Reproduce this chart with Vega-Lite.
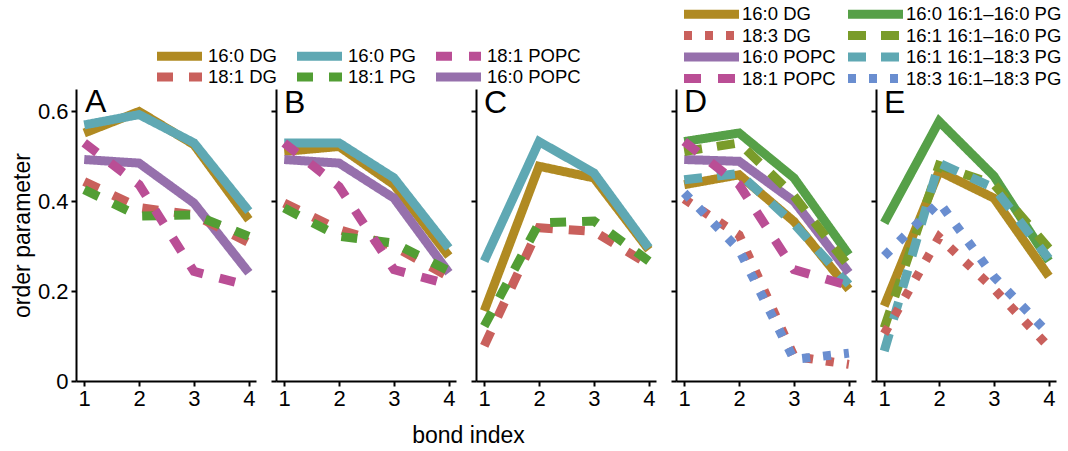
{
  "$schema": "https://vega.github.io/schema/vega-lite/v6.json",
  "background": "white",
  "padding": {"left": 11, "top": 5, "right": 0, "bottom": 0},
  "config": {
    "font": "Liberation Sans",
    "view": {"stroke": null},
    "axis": {"domainColor": "black", "domainWidth": 2, "tickColor": "black", "tickWidth": 2, "tickSize": 5, "labelFontSize": 22, "labelColor": "black", "titleFontSize": 23, "titleFontWeight": "normal", "titleColor": "black", "grid": false, "labelFont": "Liberation Sans", "titleFont": "Liberation Sans"},
    "legend": {"labelFont": "Liberation Sans", "labelFontSize": 18.5, "labelColor": "black", "padding": 0, "clipHeight": 18},
    "title": {"fontSize": 32, "fontWeight": "normal", "color": "black", "anchor": "start", "frame": "group", "baseline": "alphabetic", "font": "Liberation Sans"}
  },
  "data": {"values": [
    {"p":"A","s":"16:0 DG","b":1,"v":0.552},{"p":"A","s":"16:0 DG","b":2,"v":0.600},{"p":"A","s":"16:0 DG","b":3,"v":0.526},{"p":"A","s":"16:0 DG","b":4,"v":0.359},
    {"p":"A","s":"16:0 PG","b":1,"v":0.570},{"p":"A","s":"16:0 PG","b":2,"v":0.593},{"p":"A","s":"16:0 PG","b":3,"v":0.530},{"p":"A","s":"16:0 PG","b":4,"v":0.378},
    {"p":"A","s":"16:0 POPC","b":1,"v":0.493},{"p":"A","s":"16:0 POPC","b":2,"v":0.485},{"p":"A","s":"16:0 POPC","b":3,"v":0.396},{"p":"A","s":"16:0 POPC","b":4,"v":0.241},
    {"p":"A","s":"18:1 DG","b":1,"v":0.444},{"p":"A","s":"18:1 DG","b":2,"v":0.386},{"p":"A","s":"18:1 DG","b":3,"v":0.370},{"p":"A","s":"18:1 DG","b":4,"v":0.308},
    {"p":"A","s":"18:1 PG","b":1,"v":0.426},{"p":"A","s":"18:1 PG","b":2,"v":0.367},{"p":"A","s":"18:1 PG","b":3,"v":0.370},{"p":"A","s":"18:1 PG","b":4,"v":0.322},
    {"p":"A","s":"18:1 POPC","b":1,"v":0.530},{"p":"A","s":"18:1 POPC","b":2,"v":0.437},{"p":"A","s":"18:1 POPC","b":3,"v":0.244},{"p":"A","s":"18:1 POPC","b":4,"v":0.212},

    {"p":"B","s":"16:0 DG","b":1,"v":0.511},{"p":"B","s":"16:0 DG","b":2,"v":0.522},{"p":"B","s":"16:0 DG","b":3,"v":0.437},{"p":"B","s":"16:0 DG","b":4,"v":0.278},
    {"p":"B","s":"16:0 PG","b":1,"v":0.530},{"p":"B","s":"16:0 PG","b":2,"v":0.530},{"p":"B","s":"16:0 PG","b":3,"v":0.452},{"p":"B","s":"16:0 PG","b":4,"v":0.296},
    {"p":"B","s":"16:0 POPC","b":1,"v":0.493},{"p":"B","s":"16:0 POPC","b":2,"v":0.485},{"p":"B","s":"16:0 POPC","b":3,"v":0.407},{"p":"B","s":"16:0 POPC","b":4,"v":0.241},
    {"p":"B","s":"18:1 DG","b":1,"v":0.396},{"p":"B","s":"18:1 DG","b":2,"v":0.337},{"p":"B","s":"18:1 DG","b":3,"v":0.300},{"p":"B","s":"18:1 DG","b":4,"v":0.232},
    {"p":"B","s":"18:1 PG","b":1,"v":0.385},{"p":"B","s":"18:1 PG","b":2,"v":0.322},{"p":"B","s":"18:1 PG","b":3,"v":0.307},{"p":"B","s":"18:1 PG","b":4,"v":0.245},
    {"p":"B","s":"18:1 POPC","b":1,"v":0.530},{"p":"B","s":"18:1 POPC","b":2,"v":0.433},{"p":"B","s":"18:1 POPC","b":3,"v":0.248},{"p":"B","s":"18:1 POPC","b":4,"v":0.215},

    {"p":"C","s":"16:0 DG","b":1,"v":0.156},{"p":"C","s":"16:0 DG","b":2,"v":0.478},{"p":"C","s":"16:0 DG","b":3,"v":0.452},{"p":"C","s":"16:0 DG","b":4,"v":0.292},
    {"p":"C","s":"16:0 PG","b":1,"v":0.267},{"p":"C","s":"16:0 PG","b":2,"v":0.533},{"p":"C","s":"16:0 PG","b":3,"v":0.463},{"p":"C","s":"16:0 PG","b":4,"v":0.296},
    {"p":"C","s":"18:1 DG","b":1,"v":0.078},{"p":"C","s":"18:1 DG","b":2,"v":0.341},{"p":"C","s":"18:1 DG","b":3,"v":0.333},{"p":"C","s":"18:1 DG","b":4,"v":0.259},
    {"p":"C","s":"18:1 PG","b":1,"v":0.122},{"p":"C","s":"18:1 PG","b":2,"v":0.352},{"p":"C","s":"18:1 PG","b":3,"v":0.356},{"p":"C","s":"18:1 PG","b":4,"v":0.267},

    {"p":"D","s":"16:0 DG","b":1,"v":0.437},{"p":"D","s":"16:0 DG","b":2,"v":0.459},{"p":"D","s":"16:0 DG","b":3,"v":0.355},{"p":"D","s":"16:0 DG","b":4,"v":0.204},
    {"p":"D","s":"16:1 16:1–18:3 PG","b":1,"v":0.448},{"p":"D","s":"16:1 16:1–18:3 PG","b":2,"v":0.462},{"p":"D","s":"16:1 16:1–18:3 PG","b":3,"v":0.350},{"p":"D","s":"16:1 16:1–18:3 PG","b":4,"v":0.215},
    {"p":"D","s":"16:0 POPC","b":1,"v":0.493},{"p":"D","s":"16:0 POPC","b":2,"v":0.489},{"p":"D","s":"16:0 POPC","b":3,"v":0.400},{"p":"D","s":"16:0 POPC","b":4,"v":0.241},
    {"p":"D","s":"16:0 16:1–16:0 PG","b":1,"v":0.533},{"p":"D","s":"16:0 16:1–16:0 PG","b":2,"v":0.552},{"p":"D","s":"16:0 16:1–16:0 PG","b":3,"v":0.452},{"p":"D","s":"16:0 16:1–16:0 PG","b":4,"v":0.281},
    {"p":"D","s":"16:1 16:1–16:0 PG","b":1,"v":0.511},{"p":"D","s":"16:1 16:1–16:0 PG","b":2,"v":0.530},{"p":"D","s":"16:1 16:1–16:0 PG","b":3,"v":0.412},{"p":"D","s":"16:1 16:1–16:0 PG","b":4,"v":0.255},
    {"p":"D","s":"18:1 POPC","b":1,"v":0.533},{"p":"D","s":"18:1 POPC","b":2,"v":0.437},{"p":"D","s":"18:1 POPC","b":3,"v":0.248},{"p":"D","s":"18:1 POPC","b":4,"v":0.212},
    {"p":"D","s":"18:3 DG","b":1,"v":0.405},{"p":"D","s":"18:3 DG","b":2,"v":0.325},{"p":"D","s":"18:3 DG","b":3,"v":0.055},{"p":"D","s":"18:3 DG","b":4,"v":0.037},
    {"p":"D","s":"18:3 16:1–18:3 PG","b":1,"v":0.419},{"p":"D","s":"18:3 16:1–18:3 PG","b":2,"v":0.292},{"p":"D","s":"18:3 16:1–18:3 PG","b":3,"v":0.048},{"p":"D","s":"18:3 16:1–18:3 PG","b":4,"v":0.062},

    {"p":"E","s":"16:0 16:1–16:0 PG","b":1,"v":0.352},{"p":"E","s":"16:0 16:1–16:0 PG","b":2,"v":0.578},{"p":"E","s":"16:0 16:1–16:0 PG","b":3,"v":0.456},{"p":"E","s":"16:0 16:1–16:0 PG","b":4,"v":0.267},
    {"p":"E","s":"16:0 DG","b":1,"v":0.167},{"p":"E","s":"16:0 DG","b":2,"v":0.467},{"p":"E","s":"16:0 DG","b":3,"v":0.407},{"p":"E","s":"16:0 DG","b":4,"v":0.233},
    {"p":"E","s":"16:1 16:1–16:0 PG","b":1,"v":0.118},{"p":"E","s":"16:1 16:1–16:0 PG","b":2,"v":0.480},{"p":"E","s":"16:1 16:1–16:0 PG","b":3,"v":0.438},{"p":"E","s":"16:1 16:1–16:0 PG","b":4,"v":0.295},
    {"p":"E","s":"16:1 16:1–18:3 PG","b":1,"v":0.067},{"p":"E","s":"16:1 16:1–18:3 PG","b":2,"v":0.485},{"p":"E","s":"16:1 16:1–18:3 PG","b":3,"v":0.430},{"p":"E","s":"16:1 16:1–18:3 PG","b":4,"v":0.272},
    {"p":"E","s":"18:3 DG","b":1,"v":0.105},{"p":"E","s":"18:3 DG","b":2,"v":0.320},{"p":"E","s":"18:3 DG","b":3,"v":0.205},{"p":"E","s":"18:3 DG","b":4,"v":0.076},
    {"p":"E","s":"18:3 16:1–18:3 PG","b":1,"v":0.278},{"p":"E","s":"18:3 16:1–18:3 PG","b":2,"v":0.398},{"p":"E","s":"18:3 16:1–18:3 PG","b":3,"v":0.232},{"p":"E","s":"18:3 16:1–18:3 PG","b":4,"v":0.105}
  ]},
  "spacing": 20,
  "bounds": "flush",
  "resolve": {"scale": {"color": "independent", "strokeDash": "independent"}, "legend": {"color": "independent", "strokeDash": "independent"}},
  "hconcat": [
    {
      "width": 180, "height": 292,
      "title": {"text": "A", "offset": -72, "dx": 9},
      "transform": [{"filter": "datum.p === 'A'"}],
      "mark": {"type": "line", "strokeWidth": 9},
      "encoding": {
        "x": {"field": "b", "type": "quantitative", "scale": {"domain": [0.85, 4.13], "nice": false, "zero": false}, "axis": {"values": [1, 2, 3, 4], "format": "d", "title": null, "labelPadding": 2}},
        "y": {"field": "v", "type": "quantitative", "scale": {"domain": [0, 0.65], "nice": false}, "axis": {"values": [0, 0.2, 0.4, 0.6], "format": "~g", "title": "order parameter", "titlePadding": 3, "labelPadding": 3}},
        "color": {"field": "s", "type": "nominal",
          "scale": {"domain": ["16:0 DG", "18:1 DG", "16:0 PG", "18:1 PG", "18:1 POPC", "16:0 POPC"], "range": ["#B08A22", "#C9605C", "#5FA8B3", "#529E34", "#BA4E95", "#9670AC"]},
          "legend": {"title": null, "orient": "none", "legendX": 76.5, "legendY": -42, "columns": 3, "symbolType": "stroke", "symbolSize": 2025, "symbolStrokeWidth": 9, "labelOffset": 1.5, "columnPadding": 15, "rowPadding": 2}},
        "strokeDash": {"field": "s", "type": "nominal",
          "scale": {"domain": ["16:0 DG", "18:1 DG", "16:0 PG", "18:1 PG", "18:1 POPC", "16:0 POPC"], "range": [[1, 0], [16, 16], [1, 0], [16, 16], [16, 17], [1, 0]]},
          "legend": {"title": null, "orient": "none", "legendX": 76.5, "legendY": -42, "columns": 3, "symbolType": "stroke", "symbolSize": 2025, "symbolStrokeWidth": 9, "labelOffset": 1.5, "columnPadding": 15, "rowPadding": 2}}
      }
    },
    {
      "width": 180, "height": 292,
      "title": {"text": "B", "offset": -31, "dx": 8},
      "transform": [{"filter": "datum.p === 'B'"}],
      "mark": {"type": "line", "strokeWidth": 9},
      "encoding": {
        "x": {"field": "b", "type": "quantitative", "scale": {"domain": [0.85, 4.13], "nice": false, "zero": false}, "axis": {"values": [1, 2, 3, 4], "format": "d", "title": "bond index", "titleX": 192, "titlePadding": 15.5, "labelPadding": 2}},
        "y": {"field": "v", "type": "quantitative", "scale": {"domain": [0, 0.65], "nice": false}, "axis": {"values": [0, 0.2, 0.4, 0.6], "labels": false, "title": null}},
        "color": {"field": "s", "type": "nominal",
          "scale": {"domain": ["16:0 DG", "18:1 DG", "16:0 PG", "18:1 PG", "18:1 POPC", "16:0 POPC"], "range": ["#B08A22", "#C9605C", "#5FA8B3", "#529E34", "#BA4E95", "#9670AC"]}, "legend": null},
        "strokeDash": {"field": "s", "type": "nominal",
          "scale": {"domain": ["16:0 DG", "18:1 DG", "16:0 PG", "18:1 PG", "18:1 POPC", "16:0 POPC"], "range": [[1, 0], [16, 16], [1, 0], [16, 16], [16, 17], [1, 0]]}, "legend": null}
      }
    },
    {
      "width": 180, "height": 292,
      "title": {"text": "C", "offset": -31, "dx": 8},
      "transform": [{"filter": "datum.p === 'C'"}],
      "mark": {"type": "line", "strokeWidth": 9},
      "encoding": {
        "x": {"field": "b", "type": "quantitative", "scale": {"domain": [0.85, 4.13], "nice": false, "zero": false}, "axis": {"values": [1, 2, 3, 4], "format": "d", "title": null, "labelPadding": 2}},
        "y": {"field": "v", "type": "quantitative", "scale": {"domain": [0, 0.65], "nice": false}, "axis": {"values": [0, 0.2, 0.4, 0.6], "labels": false, "title": null}},
        "color": {"field": "s", "type": "nominal",
          "scale": {"domain": ["16:0 DG", "18:1 DG", "16:0 PG", "18:1 PG", "18:1 POPC", "16:0 POPC"], "range": ["#B08A22", "#C9605C", "#5FA8B3", "#529E34", "#BA4E95", "#9670AC"]}, "legend": null},
        "strokeDash": {"field": "s", "type": "nominal",
          "scale": {"domain": ["16:0 DG", "18:1 DG", "16:0 PG", "18:1 PG", "18:1 POPC", "16:0 POPC"], "range": [[1, 0], [16, 16], [1, 0], [16, 16], [16, 17], [1, 0]]}, "legend": null}
      }
    },
    {
      "width": 180, "height": 292,
      "title": {"text": "D", "offset": -114, "dx": 8},
      "transform": [{"filter": "datum.p === 'D'"}],
      "mark": {"type": "line", "strokeWidth": 9},
      "encoding": {
        "x": {"field": "b", "type": "quantitative", "scale": {"domain": [0.85, 4.13], "nice": false, "zero": false}, "axis": {"values": [1, 2, 3, 4], "format": "d", "title": null, "labelPadding": 2}},
        "y": {"field": "v", "type": "quantitative", "scale": {"domain": [0, 0.65], "nice": false}, "axis": {"values": [0, 0.2, 0.4, 0.6], "labels": false, "title": null}},
        "color": {"field": "s", "type": "nominal",
          "scale": {"domain": ["16:0 DG", "18:3 DG", "16:0 POPC", "18:1 POPC", "16:0 16:1–16:0 PG", "16:1 16:1–16:0 PG", "16:1 16:1–18:3 PG", "18:3 16:1–18:3 PG"], "range": ["#B08A22", "#C9605C", "#9670AC", "#BA4E95", "#56A048", "#7A9C2A", "#5FA8B3", "#6A8ED0"]},
          "legend": {"title": null, "orient": "none", "legendX": 3.5, "legendY": -84, "columns": 2, "symbolType": "stroke", "symbolSize": 3025, "symbolStrokeWidth": 9, "labelOffset": -1.5, "columnPadding": 7, "rowPadding": 2.5}},
        "strokeDash": {"field": "s", "type": "nominal",
          "scale": {"domain": ["16:0 DG", "18:3 DG", "16:0 POPC", "18:1 POPC", "16:0 16:1–16:0 PG", "16:1 16:1–16:0 PG", "16:1 16:1–18:3 PG", "18:3 16:1–18:3 PG"], "range": [[1, 0], [8, 13], [1, 0], [17, 17], [1, 0], [18, 15], [18, 15], [8, 13]]},
          "legend": {"title": null, "orient": "none", "legendX": 3.5, "legendY": -84, "columns": 2, "symbolType": "stroke", "symbolSize": 3025, "symbolStrokeWidth": 9, "labelOffset": -1.5, "columnPadding": 7, "rowPadding": 2.5}}
      }
    },
    {
      "width": 180, "height": 292,
      "title": {"text": "E", "offset": -31, "dx": 8},
      "transform": [{"filter": "datum.p === 'E'"}],
      "mark": {"type": "line", "strokeWidth": 9},
      "encoding": {
        "x": {"field": "b", "type": "quantitative", "scale": {"domain": [0.85, 4.13], "nice": false, "zero": false}, "axis": {"values": [1, 2, 3, 4], "format": "d", "title": null, "labelPadding": 2}},
        "y": {"field": "v", "type": "quantitative", "scale": {"domain": [0, 0.65], "nice": false}, "axis": {"values": [0, 0.2, 0.4, 0.6], "labels": false, "title": null}},
        "color": {"field": "s", "type": "nominal",
          "scale": {"domain": ["16:0 DG", "18:3 DG", "16:0 POPC", "18:1 POPC", "16:0 16:1–16:0 PG", "16:1 16:1–16:0 PG", "16:1 16:1–18:3 PG", "18:3 16:1–18:3 PG"], "range": ["#B08A22", "#C9605C", "#9670AC", "#BA4E95", "#56A048", "#7A9C2A", "#5FA8B3", "#6A8ED0"]}, "legend": null},
        "strokeDash": {"field": "s", "type": "nominal",
          "scale": {"domain": ["16:0 DG", "18:3 DG", "16:0 POPC", "18:1 POPC", "16:0 16:1–16:0 PG", "16:1 16:1–16:0 PG", "16:1 16:1–18:3 PG", "18:3 16:1–18:3 PG"], "range": [[1, 0], [8, 13], [1, 0], [17, 17], [1, 0], [18, 15], [18, 15], [8, 13]]}, "legend": null}
      }
    }
  ]
}
